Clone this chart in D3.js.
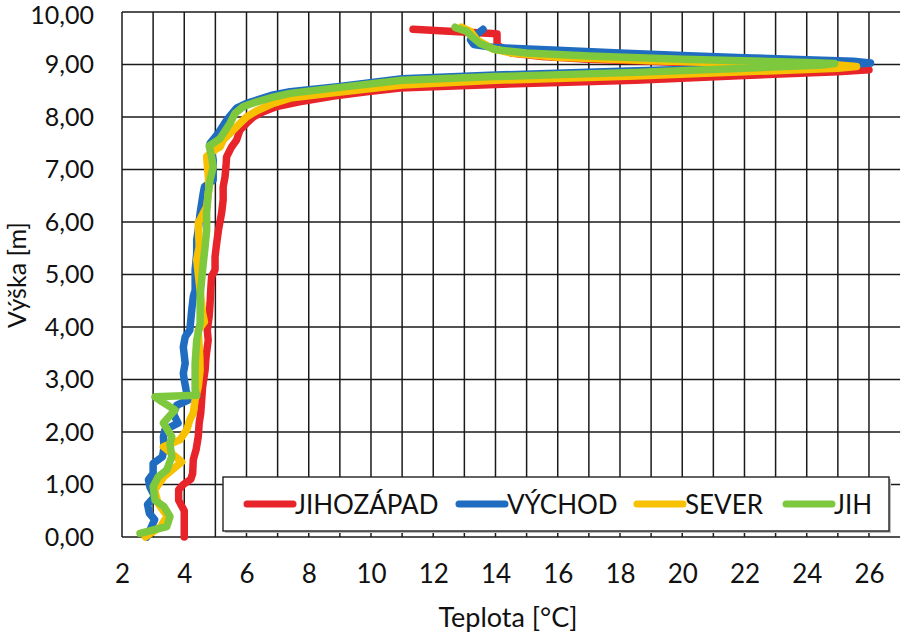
<!DOCTYPE html>
<html>
<head>
<meta charset="utf-8">
<script src="https://cdn.jsdelivr.net/npm/d3@7"></script>
<style>
  html, body { margin: 0; padding: 0; background: #fff; }
  svg { display: block; }
  text { font-family: Lato, "Open Sans", sans-serif; fill: #111; }
</style>
</head>
<body>
<svg id="chart" width="901" height="633"></svg>
<script>
// ---- Data (temperature [°C], height [m]) ----
const seriesNames = ["JIHOZÁPAD", "VÝCHOD", "SEVER", "JIH"];
const seriesColors = ["#e8242b", "#1f6cc0", "#f7c000", "#7ec83e"];

const xTicks = [2, 4, 6, 8, 10, 12, 14, 16, 18, 20, 22, 24, 26];
const yTicks = [0, 1, 2, 3, 4, 5, 6, 7, 8, 9, 10];

const jihozapadTemp = [4.00,4.00,3.82,3.82,3.97,4.21,4.27,4.29,4.38,4.45,4.48,4.53,4.56,4.59,4.67,4.70,4.77,4.74,4.80,4.83,4.85,4.88,4.99,4.99,5.04,5.10,5.20,5.25,5.25,5.31,5.34,5.36,5.52,5.68,5.79,6.00,6.22,6.54,6.97,7.70,8.80,9.86,10.93,14.0,18.5,22.0,25.0,26.0,25.0,23.0,21.0,19.0,17.0,15.5,14.5,14.05,14.05,13.9,12.65,11.35];
const jihozapadHeight = [0.00,0.50,0.70,0.90,1.00,1.10,1.21,1.47,1.66,1.91,2.17,2.36,2.61,2.86,3.18,3.43,3.75,3.94,4.20,4.45,4.70,4.96,5.09,5.34,5.59,5.85,6.17,6.42,6.67,6.86,7.05,7.24,7.43,7.56,7.75,7.88,8.00,8.10,8.20,8.29,8.40,8.48,8.55,8.62,8.70,8.79,8.86,8.90,8.93,8.97,9.01,9.06,9.10,9.15,9.22,9.37,9.58,9.59,9.63,9.67];

const vychodTemp = [2.80,2.95,3.05,2.88,2.82,3.05,2.90,2.85,3.00,3.00,3.30,3.35,3.33,3.38,3.80,3.65,3.76,4.13,4.06,4.00,3.97,4.03,3.97,4.03,4.18,4.24,4.29,4.35,4.35,4.35,4.40,4.40,4.45,4.51,4.61,4.65,4.93,4.93,4.83,5.09,5.36,5.68,6.00,6.86,7.40,9.0,11.0,14.0,18.0,22.0,25.5,26.05,25.5,24.0,22.0,20.0,18.0,16.0,14.5,13.9,13.3,13.2,13.45,13.6];
const vychodHeight = [0.00,0.20,0.33,0.45,0.62,0.77,0.95,1.09,1.21,1.40,1.53,1.70,1.91,2.04,2.17,2.35,2.51,2.61,2.80,2.99,3.12,3.31,3.62,3.81,3.94,4.32,4.58,4.70,5.02,5.09,5.40,5.66,5.85,6.17,6.55,6.67,6.80,7.18,7.50,7.69,7.94,8.17,8.26,8.42,8.48,8.58,8.73,8.80,8.87,8.94,9.00,9.03,9.06,9.09,9.13,9.17,9.22,9.27,9.31,9.33,9.38,9.47,9.60,9.67];

const severTemp = [2.75,3.25,3.45,3.15,3.05,3.35,3.92,3.33,3.86,4.08,4.18,4.29,4.35,4.45,4.51,4.50,4.45,4.65,4.59,4.51,4.40,4.48,4.45,4.72,4.80,4.72,5.00,5.15,5.25,5.47,5.79,6.00,6.33,6.86,7.40,8.80,11.0,14.0,18.5,22.0,25.0,25.6,25.0,22.0,19.0,16.0,14.5,13.9,13.4,13.2,12.9];
const severHeight = [0.00,0.20,0.40,0.65,0.90,1.15,1.43,1.72,1.85,2.04,2.23,2.36,2.61,2.86,3.18,3.43,3.94,4.10,4.26,4.70,5.28,5.53,5.98,6.29,6.67,7.25,7.38,7.43,7.56,7.69,7.88,8.00,8.12,8.26,8.36,8.46,8.61,8.70,8.78,8.86,8.93,8.96,8.99,9.02,9.07,9.14,9.22,9.30,9.47,9.63,9.71];

const jihTemp = [2.58,3.44,3.54,3.35,3.06,3.00,3.17,3.44,3.60,3.54,3.60,3.33,3.70,3.28,3.06,4.40,4.35,4.35,4.40,4.51,4.51,4.56,4.61,4.67,4.72,4.72,4.77,4.83,4.93,4.88,4.80,5.15,5.47,5.63,5.90,6.33,6.86,7.40,8.80,11.0,14.0,18.5,22.0,24.5,24.9,24.0,20.0,17.0,15.0,14.0,13.5,13.24,13.08,12.76,12.70];
const jihHeight = [0.07,0.20,0.39,0.58,0.70,0.96,1.15,1.28,1.53,1.78,1.91,2.17,2.42,2.58,2.67,2.70,2.80,3.31,3.75,4.07,4.58,4.90,5.21,5.53,5.85,6.17,6.55,6.80,7.05,7.24,7.45,7.59,7.88,8.07,8.20,8.29,8.38,8.45,8.55,8.70,8.77,8.85,8.93,8.99,9.02,9.04,9.10,9.16,9.22,9.28,9.40,9.53,9.63,9.69,9.71];

const temps = [jihozapadTemp, vychodTemp, severTemp, jihTemp];
const heights = [jihozapadHeight, vychodHeight, severHeight, jihHeight];

// ---- Layout ----
const svg = d3.select("#chart");
const pLeft = 122, pRight = 900.1, pTop = 12, pBottom = 537;
const x = d3.scaleLinear().domain([2, 27]).range([pLeft, pRight]);
const y = d3.scaleLinear().domain([0, 10]).range([pBottom, pTop]);

const gridColor = "#1a1a1a";

// vertical grid every 1 °C
const g = svg.append("g");
g.selectAll("line.v").data(d3.range(2, 27, 1)).join("line")
  .attr("class", "v")
  .attr("x1", d => x(d)).attr("x2", d => x(d))
  .attr("y1", pTop).attr("y2", pBottom)
  .attr("stroke", gridColor).attr("stroke-width", 1.5);
// horizontal grid
g.selectAll("line.h").data(yTicks).join("line")
  .attr("class", "h")
  .attr("x1", pLeft).attr("x2", pRight)
  .attr("y1", d => y(d)).attr("y2", d => y(d))
  .attr("stroke", gridColor).attr("stroke-width", 1.5);

// axes labels via d3 axes
const xAxis = d3.axisBottom(x).tickValues(xTicks).tickSize(0).tickPadding(28)
  .tickFormat(d3.format("d"));
const gx = svg.append("g").attr("transform", `translate(0,${pBottom})`).call(xAxis);
gx.select(".domain").remove();
gx.selectAll("text").attr("font-size", 26).attr("font-family", "Lato, 'Open Sans', sans-serif").attr("fill", "#111");

const yFmt = d => d3.format(".2f")(d).replace(".", ",");
const yAxis = d3.axisLeft(y).tickValues(yTicks).tickSize(0).tickPadding(28).tickFormat(yFmt);
const gy = svg.append("g").attr("transform", `translate(${pLeft},0)`).call(yAxis);
gy.select(".domain").remove();
gy.selectAll("text").attr("font-size", 25).attr("font-family", "Lato, 'Open Sans', sans-serif").attr("fill", "#111");
gy.selectAll(".tick").filter(d => d === 10).select("text").attr("dy", "0.46em");

// axis titles
svg.append("text").attr("x", 508).attr("y", 627).attr("text-anchor", "middle")
  .attr("font-size", 27).text("Teplota [°C]");
svg.append("text").attr("transform", "translate(26,275) rotate(-90)")
  .attr("text-anchor", "middle").attr("font-size", 25).text("Výška [m]");

// lines
const line = d3.line().x(d => x(d[0])).y(d => y(d[1]));
const plot = svg.append("g");
seriesNames.forEach((name, i) => {
  const pts = temps[i].map((t, k) => [t, heights[i][k]]);
  plot.append("path").datum(pts)
    .attr("d", line)
    .attr("fill", "none")
    .attr("stroke", seriesColors[i])
    .attr("stroke-width", 7.5)
    .attr("stroke-linejoin", "round")
    .attr("stroke-linecap", "round");
});

// legend
const lg = svg.append("g");
lg.append("rect").attr("x", 225).attr("y", 479).attr("width", 666).attr("height", 54)
  .attr("fill", "#bbb");
lg.append("rect").attr("x", 223).attr("y", 477).attr("width", 666).attr("height", 54)
  .attr("fill", "#fff").attr("stroke", "#222").attr("stroke-width", 1.4);
const legendX = [247, 459, 637, 786];
seriesNames.forEach((name, i) => {
  lg.append("line").attr("x1", legendX[i]).attr("x2", legendX[i] + 46)
    .attr("y1", 504).attr("y2", 504)
    .attr("stroke", seriesColors[i]).attr("stroke-width", 7)
    .attr("stroke-linecap", "round");
  lg.append("text").attr("x", legendX[i] + 48).attr("y", 514)
    .attr("font-size", 26).text(name);
});
</script>
</body>
</html>
